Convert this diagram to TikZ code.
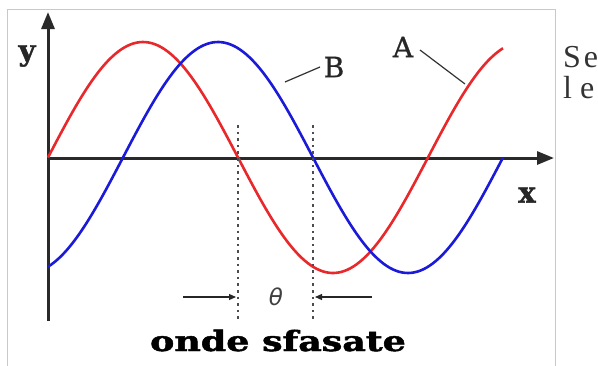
\documentclass[tikz,border=0pt]{standalone}
\usepackage{fontspec}
\setmainfont{DejaVu Serif}
\newfontfamily\pagefont{Liberation Serif}
\newfontfamily\thetafont{DejaVu Sans}
\newfontfamily\heavyfont[FakeBold=1.6]{DejaVu Serif Bold}
\newfontfamily\semifont[FakeBold=0.8]{DejaVu Serif}
\usetikzlibrary{arrows.meta}
\definecolor{wavered}{HTML}{E8282A}
\definecolor{waveblue}{HTML}{1A1AD8}
\definecolor{axisgray}{HTML}{2A2A2A}
\definecolor{framegray}{HTML}{C8C8C8}
\tikzset{
  axisline/.style={line width=3pt, draw=axisgray, -{Triangle[length=17pt,width=13pt]}},
  wave/.style={line width=2.6pt, line join=round},
  guide/.style={draw=gray!60!black, line width=2.6pt, dash pattern=on 2.6pt off 4pt},
  pointer/.style={draw=black!85, line width=1.1pt, -{Triangle[length=7pt,width=6pt]}},
  leader/.style={draw=black!80, line width=1.2pt},
  axislabel/.style={font=\heavyfont\fontsize{29}{29}\selectfont, text=black!85, inner sep=0pt},
  curvelabel/.style={font=\semifont\fontsize{28}{28}\selectfont, text=black!85, inner sep=0pt},
  pagetext/.style={font=\pagefont\fontsize{32}{32}\selectfont, text=black!80, inner sep=0pt, anchor=base west}
}
\begin{document}
\begin{tikzpicture}[x=1pt,y=-1pt]
\useasboundingbox (0,0) rectangle (598,365);
\fill[white] (0,0) rectangle (598,365);
% frame of the picture
\draw[framegray, line width=1pt] (7,366) -- (7,9) -- (555,9) -- (555,366);
% axes
\coordinate (ybot) at (48,321);
\coordinate (ytop) at (48,12);
\coordinate (xleft) at (48,158);
\coordinate (xright) at (554,158);
\draw[axisline] (ybot) -- (ytop);
\draw[axisline] (xleft) -- (xright);
% waves
\draw[wave, wavered] plot[domain=48:503, samples=150, smooth] (\x, {157.5-115.5*sin(0.947368*(\x-48))});
\draw[wave, waveblue] plot[domain=48:503, samples=150, smooth] (\x, {157.5-115.5*sin(0.947368*(\x-123))});
% dotted guides
\coordinate (g1t) at (238,125);
\coordinate (g1b) at (238,321);
\coordinate (g2t) at (313,125);
\coordinate (g2b) at (313,321);
\draw[guide] (g1t) -- (g1b);
\draw[guide] (g2t) -- (g2b);
% pointers
\coordinate (p1s) at (183,297);
\coordinate (p1e) at (236,297);
\coordinate (p2s) at (372,297);
\coordinate (p2e) at (315,297);
\draw[pointer] (p1s) -- (p1e);
\draw[pointer] (p2s) -- (p2e);
\node[text=black!75, font=\thetafont\itshape\fontsize{23}{23}\selectfont, inner sep=0pt] (theta) at (276,297) {θ};
% labels
\node[axislabel] (ylab) at (27,56) {y};
\node[axislabel] (xlab) at (527,195) {x};
\node[curvelabel] (alab) at (403,47) {A};
\node[curvelabel] (blab) at (334,67) {B};
\coordinate (astart) at (420,50);
\coordinate (aend) at (465,84);
\coordinate (bstart) at (320,67);
\coordinate (bend) at (285,82);
\draw[leader] (astart) -- (aend);
\draw[leader] (bstart) -- (bend);
% title
\node[inner sep=0pt, anchor=base, text=black] (title) at (278,351)
  {\scalebox{1.3}[1]{\heavyfont\fontsize{28}{28}\selectfont onde sfasate}};
% page text beside the picture
\node[pagetext] (se) at (563,67) {S\hspace{3pt}e};
\node[pagetext] (le) at (563,98) {l\hspace{8pt}e};
\end{tikzpicture}
\end{document}
